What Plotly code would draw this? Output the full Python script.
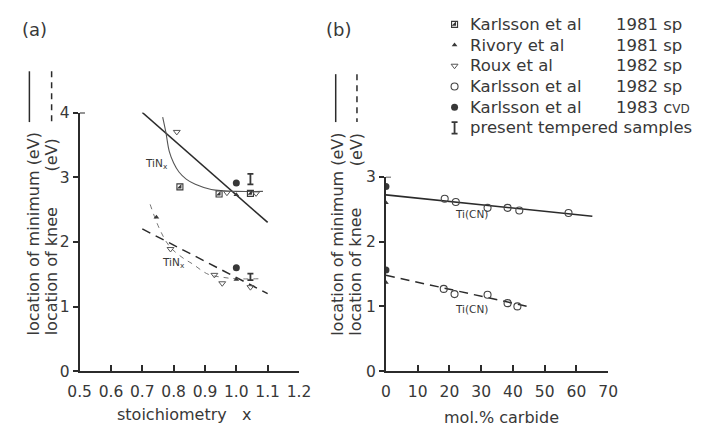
import plotly.graph_objects as go

W, H = 712, 432
INK = "#383838"
LINE = "#2b2b2b"
FONT = "DejaVu Sans"

# ---------------- panel (a): TiN_x versus stoichiometry ----------------
# location of minimum (solid)
k81_min_x = [0.82, 0.945, 1.045]
k81_min_y = [2.85, 2.74, 2.75]
riv_min_x = [0.765, 1.00]
riv_min_y = [4.07, 2.73]
roux_min_x = [0.81, 0.97, 1.063]
roux_min_y = [3.70, 2.76, 2.75]
k83_min_x = [1.00]
k83_min_y = [2.91]
pres_min_x = [1.045]
pres_min_y = [2.97]
pres_min_err = [0.08]

fit_min_x = [0.70, 1.10]
fit_min_y = [4.00, 2.30]
curve_min_x = [0.765, 0.775, 0.786, 0.80, 0.817, 0.84, 0.869, 0.92, 0.96, 1.00, 1.085]
curve_min_y = [3.93, 3.70, 3.40, 3.22, 3.08, 2.97, 2.89, 2.81, 2.79, 2.78, 2.78]

# location of knee (dashed)
riv_knee_x = [0.745, 1.00]
riv_knee_y = [2.38, 1.42]
roux_knee_x = [0.79, 0.93, 0.955, 1.045]
roux_knee_y = [1.89, 1.49, 1.36, 1.30]
k83_knee_x = [1.00]
k83_knee_y = [1.60]
pres_knee_x = [1.045]
pres_knee_y = [1.46]
pres_knee_err = [0.05]

fit_knee_x = [0.70, 1.10]
fit_knee_y = [2.20, 1.20]
curve_knee_x = [0.725, 0.755, 0.787, 0.83, 0.86, 0.91, 0.96, 1.00, 1.075]
curve_knee_y = [2.58, 2.20, 1.93, 1.75, 1.66, 1.50, 1.45, 1.43, 1.43]

# ---------------- panel (b): Ti(CN) versus carbide content ----------------
k82_min_x = [18.5, 22.0, 32.0, 38.3, 42.0, 57.5]
k82_min_y = [2.66, 2.61, 2.52, 2.52, 2.48, 2.44]
k83b_min_x = [0]
k83b_min_y = [2.85]
rivb_min_x = [0]
rivb_min_y = [2.60]
fitb_min_x = [0, 65]
fitb_min_y = [2.72, 2.39]

k82_knee_x = [18.2, 21.6, 32.0, 38.3, 41.4]
k82_knee_y = [1.27, 1.19, 1.18, 1.05, 1.00]
k83b_knee_x = [0]
k83b_knee_y = [1.56]
rivb_knee_x = [0]
rivb_knee_y = [1.37]
fitb_knee_x = [0, 45.5]
fitb_knee_y = [1.48, 0.99]

# tick labels
xa_ticks = [0.5, 0.6, 0.7, 0.8, 0.9, 1.0, 1.1, 1.2]
xa_labels = ["0.5", "0.6", "0.7", "0.8", "0.9", "1.0", "1.1", "1.2"]
ya_ticks = [0, 1, 2, 3, 4]
xb_ticks = [0, 10, 20, 30, 40, 50, 60, 70]
yb_ticks = [0, 1, 2, 3]

# legend entries
legend_kinds = ["k81", "riv", "roux", "k82", "k83", "pres"]
legend_names = ["Karlsson et al", "Rivory et al", "Roux et al",
                "Karlsson et al", "Karlsson et al", "present tempered samples"]
legend_years = ["1981 sp", "1981 sp", "1982 sp", "1982 sp",
                "1983 c<span style='font-size:12px'>VD</span>", ""]


def px(x):
    return x / W


def py(y):
    return 1 - y / H


fig = go.Figure()


def add_marks(x, y, kind, xa, ya, err=None):
    common = dict(x=x, y=y, mode="markers", xaxis=xa, yaxis=ya,
                  showlegend=False, hoverinfo="skip")
    if kind == "k81":
        fig.add_trace(go.Scatter(**common, marker=dict(symbol="square-open", size=6,
                                 color=INK, line=dict(width=1.1, color=INK))))
        fig.add_trace(go.Scatter(**common, marker=dict(symbol="triangle-se", size=5,
                                 color=INK, line=dict(width=0))))
    elif kind == "riv":
        fig.add_trace(go.Scatter(**common, marker=dict(symbol="triangle-up", size=5,
                                 color=INK, line=dict(width=0))))
    elif kind == "roux":
        fig.add_trace(go.Scatter(**common, marker=dict(symbol="triangle-down-open", size=6,
                                 color="#555555", line=dict(width=1))))
    elif kind == "k82":
        fig.add_trace(go.Scatter(**common, marker=dict(symbol="circle-open", size=7,
                                 color="#444444", line=dict(width=1.1))))
    elif kind == "k83":
        fig.add_trace(go.Scatter(**common, marker=dict(symbol="circle", size=7,
                                 color=INK, line=dict(width=0))))
    elif kind == "pres":
        fig.add_trace(go.Scatter(**common, marker=dict(size=1, color="rgba(0,0,0,0)"),
                                 error_y=dict(type="data", array=err, width=3,
                                              thickness=1.8, color=INK)))


def add_line(x, y, xa, ya, dash="solid", width=1.5, color=LINE, shape="linear"):
    fig.add_trace(go.Scatter(x=x, y=y, mode="lines", xaxis=xa, yaxis=ya,
                             line=dict(color=color, width=width, dash=dash, shape=shape),
                             showlegend=False, hoverinfo="skip"))


# panel (a) lines
add_line(fit_min_x, fit_min_y, "x", "y", width=1.6)
add_line(curve_min_x, curve_min_y, "x", "y", width=1.1, color="#555555", shape="spline")
add_line(fit_knee_x, fit_knee_y, "x", "y", dash="9px,6px", width=1.5)
add_line(curve_knee_x, curve_knee_y, "x", "y", dash="5px,5px", width=1.0,
         color="#777777", shape="spline")

# panel (a) markers
add_marks(k81_min_x, k81_min_y, "k81", "x", "y")
add_marks(riv_min_x, riv_min_y, "riv", "x", "y")
add_marks(roux_min_x, roux_min_y, "roux", "x", "y")
add_marks(k83_min_x, k83_min_y, "k83", "x", "y")
add_marks(pres_min_x, pres_min_y, "pres", "x", "y", pres_min_err)
add_marks(riv_knee_x, riv_knee_y, "riv", "x", "y")
add_marks(roux_knee_x, roux_knee_y, "roux", "x", "y")
add_marks(k83_knee_x, k83_knee_y, "k83", "x", "y")
add_marks(pres_knee_x, pres_knee_y, "pres", "x", "y", pres_knee_err)

# panel (b) lines and markers
add_line(fitb_min_x, fitb_min_y, "x2", "y2", width=1.6)
add_line(fitb_knee_x, fitb_knee_y, "x2", "y2", dash="9px,6px", width=1.5)
add_marks(k82_min_x, k82_min_y, "k82", "x2", "y2")
add_marks(k83b_min_x, k83b_min_y, "k83", "x2", "y2")
add_marks(rivb_min_x, rivb_min_y, "riv", "x2", "y2")
add_marks(k82_knee_x, k82_knee_y, "k82", "x2", "y2")
add_marks(k83b_knee_x, k83b_knee_y, "k83", "x2", "y2")
add_marks(rivb_knee_x, rivb_knee_y, "riv", "x2", "y2")

# legend symbols on a pixel-unit overlay axis
LEG_X = 458
LEG_ROW0, LEG_DY = 16, 21.6
for i, kind in enumerate(legend_kinds):
    yy = LEG_ROW0 + i * LEG_DY
    add_marks([LEG_X], [yy], kind, "x3", "y3", [6] if kind == "pres" else None)

LEG_FONT = dict(size=16.5, color=INK, family=FONT)
annotations = []
for i, (name, year) in enumerate(zip(legend_names, legend_years)):
    yy = LEG_ROW0 + i * LEG_DY
    annotations.append(dict(x=472, y=yy, xref="x3", yref="y3", text=name, font=LEG_FONT,
                            xanchor="left", yanchor="middle", showarrow=False))
    if year:
        annotations.append(dict(x=623, y=yy, xref="x3", yref="y3", text=year, font=LEG_FONT,
                                xanchor="left", yanchor="middle", showarrow=False))

# panel labels and axis titles
annotations += [
    dict(x=px(23), y=py(21), text="(a)", font=dict(size=18)),
    dict(x=px(338), y=py(21), text="(b)", font=dict(size=18)),
    dict(x=px(178), y=py(423), text="stoichiometry   x"),
    dict(x=px(507), y=py(426), text="mol.% carbide"),
    # rotated y titles, panel (a)
    dict(x=px(22), y=py(343), text="location of minimum (eV)", textangle=-90,
         yanchor="bottom"),
    dict(x=px(41), y=py(343), text="location of knee", textangle=-90, yanchor="bottom"),
    dict(x=px(41), y=py(133), text="(eV)", textangle=-90, yanchor="top"),
    # rotated y titles, panel (b)
    dict(x=px(337), y=py(343), text="location of minimum (eV)", textangle=-90,
         yanchor="bottom"),
    dict(x=px(356), y=py(343), text="location of knee", textangle=-90, yanchor="bottom"),
    dict(x=px(356), y=py(128), text="(eV)", textangle=-90, yanchor="top"),
]
for a in annotations:
    if "xref" not in a:
        a.update(xref="paper", yref="paper")
        a.setdefault("xanchor", "center")
        a.setdefault("yanchor", "middle")
    a["showarrow"] = False

# curve labels inside the panels
SMALL = dict(size=10.5, color=INK, family=FONT)
annotations += [
    dict(x=0.746, y=3.2, xref="x", yref="y", text="TiN<sub>x</sub>",
         font=SMALL, showarrow=False),
    dict(x=0.80, y=1.67, xref="x", yref="y", text="TiN<sub>x</sub>",
         font=SMALL, showarrow=False),
    dict(x=27, y=2.42, xref="x2", yref="y2", text="Ti(CN)",
         font=SMALL, showarrow=False),
    dict(x=27, y=0.96, xref="x2", yref="y2", text="Ti(CN)",
         font=SMALL, showarrow=False),
]

shapes = [
    # line-style keys beside the y titles
    dict(type="line", xref="paper", yref="paper", x0=px(18), x1=px(18),
         y0=py(65), y1=py(118), line=dict(color=LINE, width=1.5)),
    dict(type="line", xref="paper", yref="paper", x0=px(41), x1=px(41),
         y0=py(65), y1=py(118), line=dict(color=LINE, width=1.5, dash="6px,5px")),
    dict(type="line", xref="paper", yref="paper", x0=px(335), x1=px(335),
         y0=py(68), y1=py(118), line=dict(color=LINE, width=1.5)),
    dict(type="line", xref="paper", yref="paper", x0=px(357), x1=px(357),
         y0=py(68), y1=py(118), line=dict(color=LINE, width=1.5, dash="6px,5px")),
    # top ticks of the vertical axes
    dict(type="line", xref="x", yref="y", x0=0.5, x1=0.517, y0=4, y1=4,
         line=dict(color=LINE, width=1.8)),
    dict(type="line", xref="x2", yref="y2", x0=0, x1=1.6, y0=3, y1=3,
         line=dict(color=LINE, width=1.8)),
]

axis_common = dict(showline=True, linecolor=LINE, linewidth=2, showgrid=False,
                   zeroline=False, tickcolor=LINE, tickwidth=1.5,
                   tickfont=dict(size=15.5, color=INK, family=FONT))

fig.update_layout(
    width=W, height=H,
    margin=dict(l=0, r=0, t=0, b=0),
    paper_bgcolor="white", plot_bgcolor="rgba(0,0,0,0)",
    font=dict(family=FONT, size=16, color=INK),
    showlegend=False,
    xaxis=dict(domain=[px(70), px(297)], range=[0.5, 1.2], tickvals=xa_ticks,
               ticktext=xa_labels, ticks="inside", ticklen=6, ticklabelstandoff=5,
               anchor="y", **axis_common),
    yaxis=dict(domain=[py(378), py(108)], range=[0, 4], tickvals=ya_ticks,
               ticks="outside", ticklen=5, anchor="x", **axis_common),
    xaxis2=dict(domain=[px(387), px(617)], range=[0, 70], tickvals=xb_ticks,
                ticks="inside", ticklen=6, ticklabelstandoff=5, anchor="y2",
                **axis_common),
    yaxis2=dict(domain=[py(378), py(175)], range=[0, 3], tickvals=yb_ticks,
                ticks="outside", ticklen=5, anchor="x2", **axis_common),
    xaxis3=dict(domain=[0, 1], range=[0, W], visible=False, anchor="y3"),
    yaxis3=dict(domain=[0, 1], range=[H, 0], visible=False, anchor="x3"),
    annotations=annotations,
    shapes=shapes,
)

fig.write_html("out.html")
